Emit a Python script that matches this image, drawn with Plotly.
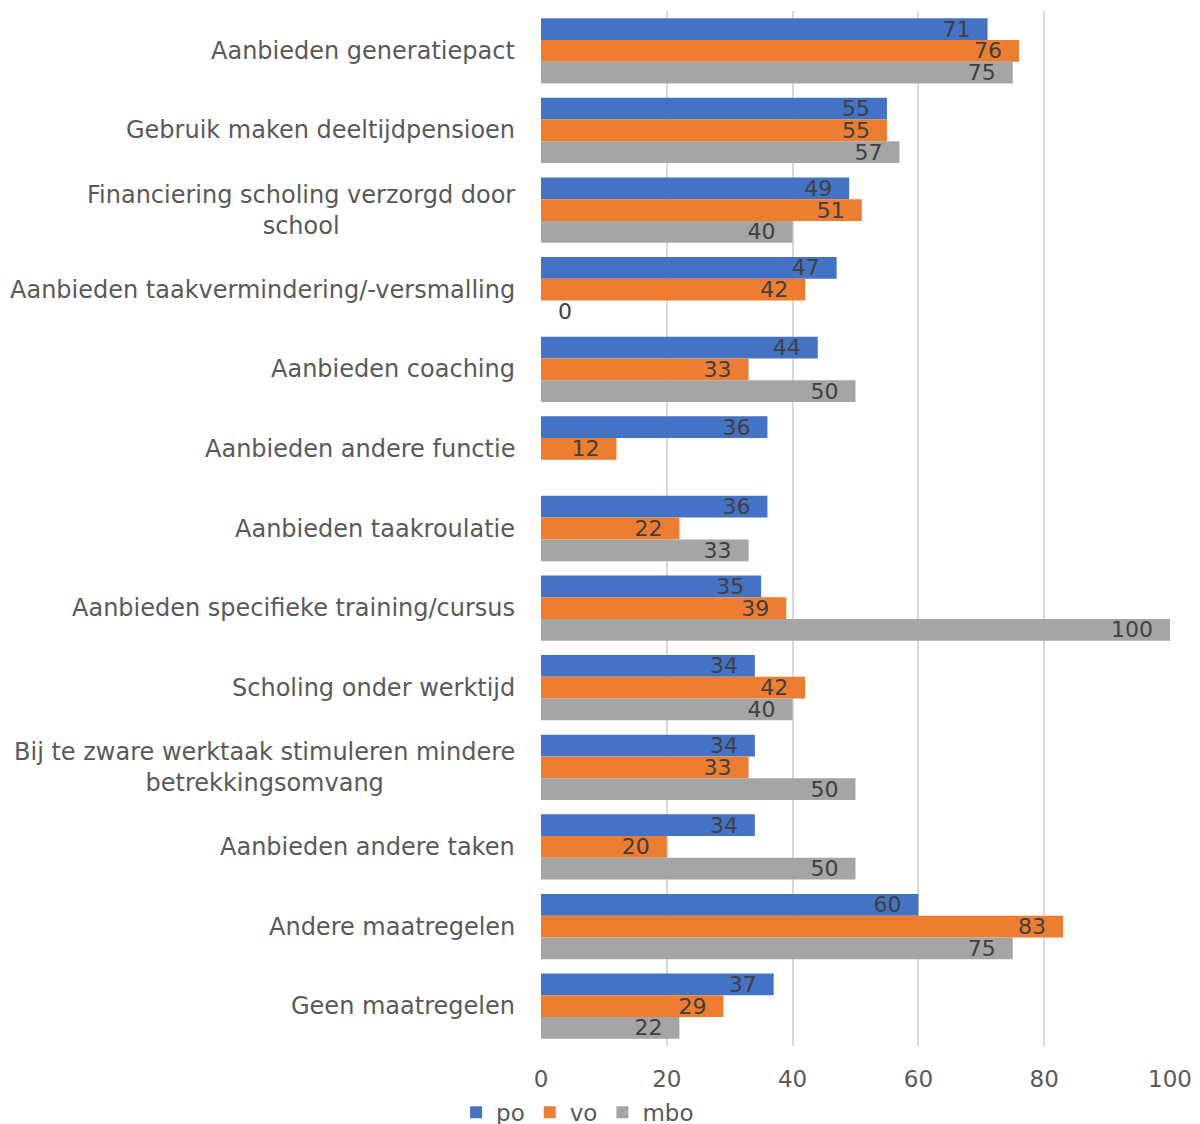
import plotly.graph_objects as go

categories = [
    "Aanbieden generatiepact",
    "Gebruik maken deeltijdpensioen",
    "Financiering scholing verzorgd door<br>school",
    "Aanbieden taakvermindering/-versmalling",
    "Aanbieden coaching",
    "Aanbieden andere functie",
    "Aanbieden taakroulatie",
    "Aanbieden specifieke training/cursus",
    "Scholing onder werktijd",
    "Bij te zware werktaak stimuleren mindere<br>betrekkingsomvang",
    "Aanbieden andere taken",
    "Andere maatregelen",
    "Geen maatregelen",
]
po = [71, 55, 49, 47, 44, 36, 36, 35, 34, 34, 34, 60, 37]
vo = [76, 55, 51, 42, 33, 12, 22, 39, 42, 33, 20, 83, 29]
mbo = [75, 57, 40, 0, 50, None, 33, 100, 40, 50, 50, 75, 22]
series = [("po", po, "#4472C4"), ("vo", vo, "#ED7D31"), ("mbo", mbo, "#A5A5A5")]

FONT = "DejaVu Sans"
NB = "\u00a0"

fig = go.Figure()
for name, vals, color in series:
    texts = []
    positions = []
    for v in vals:
        if v is None:
            texts.append("")
            positions.append("none")
        elif v == 0:
            texts.append(NB * 2 + str(v))
            positions.append("outside")
        else:
            texts.append(str(v) + NB * 2)
            positions.append("inside")
    fig.add_trace(go.Bar(
        name=name, y=categories, x=vals, orientation="h",
        marker=dict(color=color, line=dict(width=0)),
        text=texts, textposition=positions, insidetextanchor="end",
        textfont=dict(color="#404040", size=22, family=FONT),
        outsidetextfont=dict(color="#404040", size=22, family=FONT),
        constraintext="none", cliponaxis=False,
    ))

# category labels, centered multi-line, positioned via the y axis
for c in categories:
    fig.add_annotation(
        x=0, xref="paper", xshift=-24, xanchor="right",
        y=c, yref="y", yanchor="middle",
        text=c, align="center", showarrow=False,
        font=dict(family=FONT, size=24, color="#595959"),
    )

fig.update_layout(
    width=1200, height=1124,
    barmode="group", bargap=0.18, bargroupgap=0,
    plot_bgcolor="white", paper_bgcolor="white",
    margin=dict(l=533, r=38, t=3, b=86, autoexpand=False),
    font=dict(family=FONT, color="#595959", size=22),
    showlegend=True,
    legend=dict(orientation="h", x=-0.135, xanchor="left", y=-0.064, yanchor="middle",
                font=dict(size=23, color="#595959"), itemwidth=30, tracegroupgap=0),
    uniformtext=dict(mode=False),
)
fig.update_xaxes(range=[0, 100], dtick=20, showgrid=True, gridcolor="#d9d9d9", gridwidth=2,
                 zeroline=False, showline=False, tickfont=dict(size=23, color="#595959"),
                 ticks="", ticklabelstandoff=17)
fig.update_yaxes(autorange="reversed", showgrid=False, showline=False, ticks="",
                 showticklabels=False)

fig.write_html("out.html")
